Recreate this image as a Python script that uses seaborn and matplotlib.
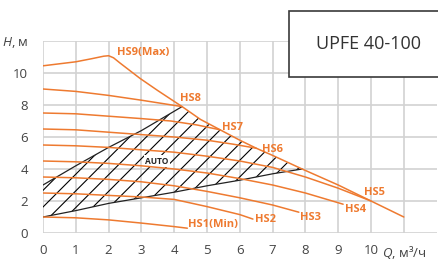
import numpy as np
import pandas as pd
import matplotlib
matplotlib.use("Agg")
import matplotlib.pyplot as plt
import seaborn as sns
from matplotlib.patches import Rectangle, Polygon

# pump curves (Q in m3/h, H in m)
q_hs9 = [0, 1, 1.5, 1.85, 2.0, 2.15, 2.35, 2.96, 3.5, 4.24, 4.8, 5.4, 6, 6.5, 7, 7.9, 9, 10, 11]
h_hs9 = [10.45, 10.7, 10.9, 11.05, 11.08, 10.95, 10.62, 9.66, 8.9, 7.9, 7.1, 6.45, 5.8, 5.3, 4.85, 4.0, 3.0, 2.0, 1.0]

q_hs8 = [0, 1, 2, 3, 4.24]
h_hs8 = [9.0, 8.85, 8.6, 8.3, 7.9]

q_hs7 = [0, 1, 2, 3, 3.9, 4.7, 5.4]
h_hs7 = [7.5, 7.45, 7.3, 7.15, 7.0, 6.75, 6.45]

q_hs6 = [0, 1, 2, 3, 4, 5, 5.8, 6.5]
h_hs6 = [6.5, 6.45, 6.3, 6.15, 6.0, 5.8, 5.55, 5.3]

q_hs5 = [0, 1, 2, 3, 4, 5, 6, 7, 8, 9, 10]
h_hs5 = [5.5, 5.45, 5.35, 5.2, 5.05, 4.8, 4.5, 4.1, 3.5, 2.8, 2.0]

q_hs4 = [0, 1, 2, 3, 4, 5, 6, 7, 8, 9.15]
h_hs4 = [4.5, 4.45, 4.35, 4.2, 4.0, 3.75, 3.4, 3.0, 2.5, 1.8]

q_hs3 = [0, 1, 2, 3, 4, 5, 6, 7, 7.8]
h_hs3 = [3.5, 3.45, 3.35, 3.2, 2.95, 2.6, 2.2, 1.75, 1.3]

q_hs2 = [0, 1, 2, 3, 4, 5, 6, 6.4]
h_hs2 = [2.5, 2.45, 2.35, 2.25, 2.1, 1.65, 1.15, 0.87]

q_hs1 = [0, 1, 2, 3, 4, 4.4]
h_hs1 = [1.0, 0.95, 0.82, 0.62, 0.4, 0.3]

# AUTO zone borders
q_auto_top = [0, 1, 2, 3, 4.24]
h_auto_top = [3.0, 4.2, 5.35, 6.4, 7.9]
q_auto_low = [0, 1, 2, 3, 4, 5, 6, 7, 7.9]
h_auto_low = [1.0, 1.4, 1.85, 2.2, 2.55, 2.95, 3.3, 3.7, 4.0]

curve_names = ["HS9(Max)", "HS8", "HS7", "HS6", "HS5", "HS4", "HS3", "HS2", "HS1(Min)"]
curve_q = [q_hs9, q_hs8, q_hs7, q_hs6, q_hs5, q_hs4, q_hs3, q_hs2, q_hs1]
curve_h = [h_hs9, h_hs8, h_hs7, h_hs6, h_hs5, h_hs4, h_hs3, h_hs2, h_hs1]

# where the curve names sit
label_pos = [(2.27, 11.25), (4.18, 8.4), (5.45, 6.6), (6.68, 5.25), (9.8, 2.56),
             (9.2, 1.44), (7.84, 0.94), (6.46, 0.87), (4.42, 0.5)]

x_ticks = list(range(12))
x_labels = [str(i) for i in range(11)] + [r"$Q$, м³/ч"]
y_ticks = list(range(0, 13, 2))
y_labels = [str(i) for i in range(0, 11, 2)] + [r"$H$, м"]

sns.set_style("white")
plt.rcParams['font.family'] = ['Open Sans', 'DejaVu Sans']
plt.rcParams['mathtext.fontset'] = 'custom'
plt.rcParams['mathtext.it'] = 'Open Sans:italic'
plt.rcParams['mathtext.rm'] = 'Open Sans'
plt.rcParams['hatch.linewidth'] = 0.8
plt.rcParams['hatch.color'] = 'black'

ORANGE = '#EE7A30'
GRID = '#d2d2d2'
TEXT = '#444444'

fig = plt.figure(figsize=(4.38, 2.62), dpi=100)
ax = fig.add_axes([43 / 438, 29 / 262, 393.6 / 438, 192 / 262])

# hatched AUTO zone
q_max = np.array(q_hs9)
h_max = np.array(h_hs9)
seg = (q_max > q_auto_top[-1]) & (q_max < q_auto_low[-1])
poly_q = list(q_auto_top) + list(q_max[seg]) + list(q_auto_low[::-1])
poly_h = list(h_auto_top) + list(h_max[seg]) + list(h_auto_low[::-1])
ax.add_patch(Polygon(np.column_stack([poly_q, poly_h]), closed=True,
                     facecolor='none', edgecolor='black', linewidth=0,
                     hatch='//', zorder=2))

auto_df = pd.concat([
    pd.DataFrame({'Q': q_auto_top, 'H': h_auto_top, 'line': 'top'}),
    pd.DataFrame({'Q': q_auto_low, 'H': h_auto_low, 'line': 'low'}),
])
sns.lineplot(data=auto_df, x='Q', y='H', units='line', estimator=None, sort=False,
             color='#222222', linewidth=0.9, ax=ax, zorder=3)

ax.text(3.48, 4.5, 'AUTO', fontsize=6, fontweight='bold', color='#222222',
        ha='center', va='center', zorder=3.5,
        bbox=dict(facecolor='white', edgecolor='none', pad=1.2))

# speed curves
df = pd.concat([pd.DataFrame({'Q': q, 'H': h, 'curve': n})
                for n, q, h in zip(curve_names, curve_q, curve_h)])
sns.lineplot(data=df, x='Q', y='H', units='curve', estimator=None, sort=False,
             color=ORANGE, linewidth=1.1, ax=ax, zorder=4)

for name, (lx, ly) in zip(curve_names, label_pos):
    ax.text(lx, ly, name, color=ORANGE, fontsize=8, fontweight='bold',
            ha='left', va='center', zorder=5)

ax.set_xlim(0, 12)
ax.set_ylim(0, 12)
ax.set_xticks(x_ticks)
ax.set_xticklabels(x_labels)
ax.set_yticks(y_ticks)
ax.set_yticklabels(y_labels)
ax.set_xticks(np.arange(0.5, 11, 1), minor=True)
ax.set_yticks(range(1, 12, 2), minor=True)
ax.tick_params(axis='y', which='major', length=7.2, width=1.2, color=GRID,
               pad=3.5, labelsize=9.5, labelcolor=TEXT)
ax.tick_params(axis='x', which='major', length=4.5, width=1.2, color=GRID,
               pad=3.5, labelsize=9.5, labelcolor=TEXT)
ax.tick_params(which='minor', length=2.5, width=1.0, color=GRID)
ax.grid(True, which='major', color=GRID, linewidth=1.2)
ax.set_axisbelow(True)
ax.set_xlabel('')
ax.set_ylabel('')
for s in ax.spines.values():
    s.set_visible(False)

# model name box
fig.add_artist(Rectangle((289 / 438, 1 - 77 / 262), 0.4, 66.3 / 262,
                         transform=fig.transFigure, facecolor='white',
                         edgecolor='#3a3a3a', linewidth=1.2, zorder=10))
fig.text(368 / 438, 1 - 44 / 262, 'UPFE 40-100', ha='center', va='center',
         fontsize=13, color='#333333', zorder=11)

fig.savefig('out.png', dpi=100)
